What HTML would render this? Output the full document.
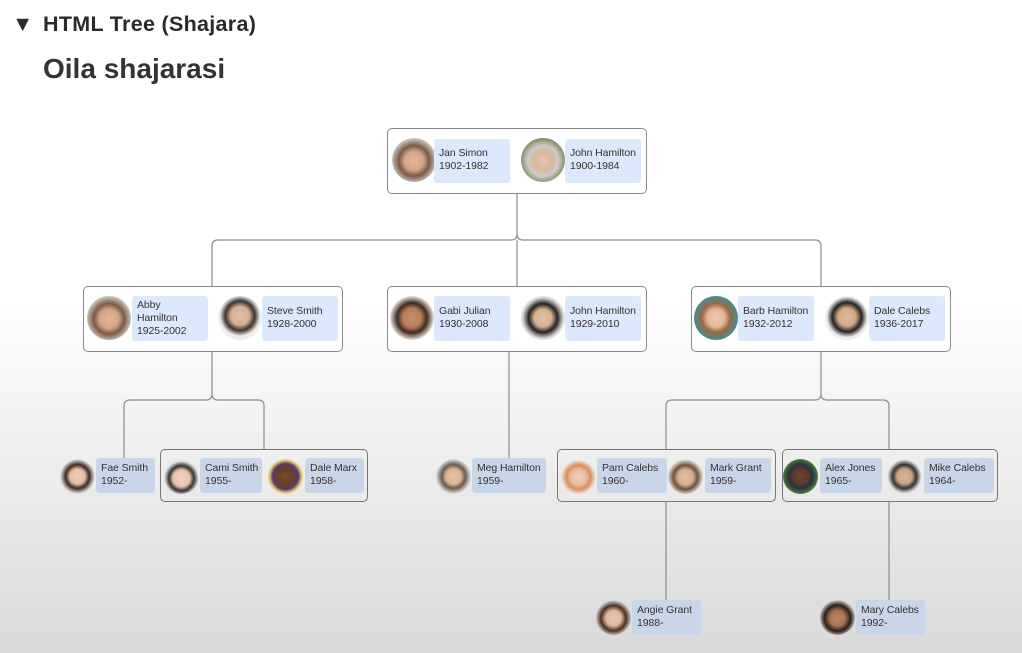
<!DOCTYPE html>
<html><head><meta charset="utf-8"><style>
*{margin:0;padding:0;box-sizing:border-box}
body{width:1022px;height:653px;overflow:hidden;position:relative;font-family:"Liberation Sans",sans-serif;background:linear-gradient(#fff 0,#fff 300px,#d9d9d9 653px);color:#333}
.h1{position:absolute;left:12px;top:12px;font-size:21.5px;color:#2a2a2a;font-weight:bold;letter-spacing:0.3px}
.h1 span{position:absolute;left:31px;top:0;white-space:nowrap}
.h2{position:absolute;left:43px;top:53px;font-size:28px;font-weight:bold;color:#333}
.box{position:absolute;border:1px solid #8a8a8a;border-radius:5px;background:#fff}
.box.l3{background:transparent;border-color:#777}
.av{position:absolute;border-radius:50%;background:radial-gradient(circle at 50% 52%,#e2b99a 0,#d4a584 30%,#7a5a48 48%,#c9c2b8 70%)}
.lb{position:absolute;background:#dce8fb;border-radius:3px;font-size:10.5px;line-height:13px;padding:7px 5px;color:#333;white-space:nowrap;letter-spacing:-0.1px}
.lb.g{background:#c8d6e8}
svg{position:absolute;left:0;top:0}
</style></head><body>
<div class="h1">▼<span>HTML Tree (Shajara)</span></div>
<div class="h2">Oila shajarasi</div>
<svg width="1022" height="653" fill="none" stroke="#8c8c8c" stroke-width="1.2">
<path d="M517 193 V234 Q517 240 511 240 H218 Q212 240 212 246 V286"/>
<path d="M517 234 Q517 240 523 240 H815 Q821 240 821 246 V286"/>
<path d="M517 240 V286"/>
<path d="M212 351 V394 Q212 400 206 400 H130 Q124 400 124 406 V462"/>
<path d="M212 394 Q212 400 218 400 H258 Q264 400 264 406 V449"/>
<path d="M509 351 V460"/>
<path d="M821 351 V394 Q821 400 815 400 H672 Q666 400 666 406 V449"/>
<path d="M821 394 Q821 400 827 400 H883 Q889 400 889 406 V449"/>
<path d="M666 501 V600"/>
<path d="M889 501 V600"/>
</svg>

<div class="box" style="left:387px;top:128px;width:260px;height:66px"></div>
<div class="av" style="left:392px;top:138px;width:44px;height:44px"></div>
<div class="lb" style="left:434px;top:139px;width:76px;height:44px;padding-top:8px">Jan Simon<br>1902-1982</div>
<div class="av" style="left:521px;top:138px;width:44px;height:44px;background:radial-gradient(circle at 50% 52%,#e6c7b0 0,#d9b79d 30%,#ccc 48%,#7d8a5a 72%)"></div>
<div class="lb" style="left:565px;top:139px;width:76px;height:44px;padding-top:8px">John Hamilton<br>1900-1984</div>

<div class="box" style="left:83px;top:286px;width:260px;height:66px"></div>
<div class="av" style="left:87px;top:296px;width:44px;height:44px"></div>
<div class="lb" style="left:132px;top:296px;width:76px;height:45px;padding-top:3px">Abby<br>Hamilton<br>1925-2002</div>
<div class="av" style="left:218px;top:296px;width:44px;height:44px;background:radial-gradient(circle at 50% 45%,#e3bfa3 0,#d7b094 28%,#3a3230 45%,#eee 62%)"></div>
<div class="lb" style="left:262px;top:296px;width:76px;height:45px;padding-top:9px">Steve Smith<br>1928-2000</div>

<div class="box" style="left:387px;top:286px;width:260px;height:66px"></div>
<div class="av" style="left:390px;top:296px;width:44px;height:44px;background:radial-gradient(circle at 50% 50%,#c98e6a 0,#b97d5a 30%,#3b2a22 48%,#e8ded3 70%)"></div>
<div class="lb" style="left:434px;top:296px;width:76px;height:45px;padding-top:9px">Gabi Julian<br>1930-2008</div>
<div class="av" style="left:521px;top:296px;width:44px;height:44px;background:radial-gradient(circle at 50% 50%,#e2c1a2 0,#d5b190 28%,#222 46%,#ddd 66%)"></div>
<div class="lb" style="left:565px;top:296px;width:76px;height:45px;padding-top:9px">John Hamilton<br>1929-2010</div>

<div class="box" style="left:691px;top:286px;width:260px;height:66px"></div>
<div class="av" style="left:694px;top:296px;width:44px;height:44px;background:radial-gradient(circle at 50% 50%,#f0c8aa 0,#e6b898 28%,#9b6a45 46%,#4a8a8a 68%)"></div>
<div class="lb" style="left:738px;top:296px;width:76px;height:45px;padding-top:9px">Barb Hamilton<br>1932-2012</div>
<div class="av" style="left:825px;top:296px;width:44px;height:44px;background:radial-gradient(circle at 50% 48%,#e0b994 0,#d3a985 28%,#222 46%,#eee 64%)"></div>
<div class="lb" style="left:869px;top:296px;width:76px;height:45px;padding-top:9px">Dale Calebs<br>1936-2017</div>

<div class="av" style="left:60px;top:459px;width:35px;height:35px;background:radial-gradient(circle at 50% 50%,#f0cdb6 0,#e6bea5 30%,#3a2a24 48%,#e6e6e6 70%)"></div>
<div class="lb g" style="left:96px;top:458px;width:59px;height:35px;padding-top:4px">Fae Smith<br>1952-</div>

<div class="box l3" style="left:160px;top:449px;width:208px;height:53px"></div>
<div class="av" style="left:164px;top:459px;width:35px;height:35px;background:radial-gradient(circle at 50% 55%,#f0d0bb 0,#e9c4ac 32%,#333 48%,#e6e6e6 66%)"></div>
<div class="lb g" style="left:200px;top:458px;width:62px;height:35px;padding-top:4px">Cami Smith<br>1955-</div>
<div class="av" style="left:268px;top:459px;width:35px;height:35px;background:radial-gradient(circle at 50% 50%,#7a4a2e 0,#6a3e25 32%,#5a3a6a 52%,#e7d27a 66%)"></div>
<div class="lb g" style="left:305px;top:458px;width:59px;height:35px;padding-top:4px">Dale Marx<br>1958-</div>

<div class="av" style="left:436px;top:459px;width:35px;height:35px;background:radial-gradient(circle at 50% 50%,#e8c4a8 0,#ddb596 30%,#6a5a50 48%,#ddd 70%)"></div>
<div class="lb g" style="left:472px;top:458px;width:74px;height:35px;padding-top:4px">Meg Hamilton<br>1959-</div>

<div class="box l3" style="left:557px;top:449px;width:219px;height:53px"></div>
<div class="av" style="left:561px;top:459px;width:35px;height:35px;background:radial-gradient(circle at 50% 52%,#f3d0b8 0,#eac0a2 30%,#d98f5a 48%,#eee 70%)"></div>
<div class="lb g" style="left:597px;top:458px;width:70px;height:35px;padding-top:4px">Pam Calebs<br>1960-</div>
<div class="av" style="left:668px;top:459px;width:35px;height:35px;background:radial-gradient(circle at 50% 52%,#e5bfa0 0,#d8b090 30%,#6e5040 48%,#e3e3d8 70%)"></div>
<div class="lb g" style="left:705px;top:458px;width:66px;height:35px;padding-top:4px">Mark Grant<br>1959-</div>

<div class="box l3" style="left:782px;top:449px;width:216px;height:53px"></div>
<div class="av" style="left:783px;top:459px;width:35px;height:35px;background:radial-gradient(circle at 50% 50%,#6e4630 0,#5e3a26 30%,#2a3044 48%,#4c7a3a 70%)"></div>
<div class="lb g" style="left:820px;top:458px;width:62px;height:35px;padding-top:4px">Alex Jones<br>1965-</div>
<div class="av" style="left:887px;top:459px;width:35px;height:35px;background:radial-gradient(circle at 50% 50%,#d9b396 0,#caa385 30%,#333 48%,#e6e6e6 68%)"></div>
<div class="lb g" style="left:924px;top:458px;width:70px;height:35px;padding-top:4px">Mike Calebs<br>1964-</div>

<div class="av" style="left:596px;top:600px;width:35px;height:35px;background:radial-gradient(circle at 50% 52%,#ebc7ae 0,#e0b89c 30%,#4a2e22 50%,#ddd 72%)"></div>
<div class="lb g" style="left:632px;top:600px;width:69px;height:35px;padding-top:4px">Angie Grant<br>1988-</div>
<div class="av" style="left:820px;top:600px;width:35px;height:35px;background:radial-gradient(circle at 50% 52%,#b98462 0,#a97552 30%,#2a1e18 52%,#ddd 74%)"></div>
<div class="lb g" style="left:856px;top:600px;width:69px;height:35px;padding-top:4px">Mary Calebs<br>1992-</div>
</body></html>
